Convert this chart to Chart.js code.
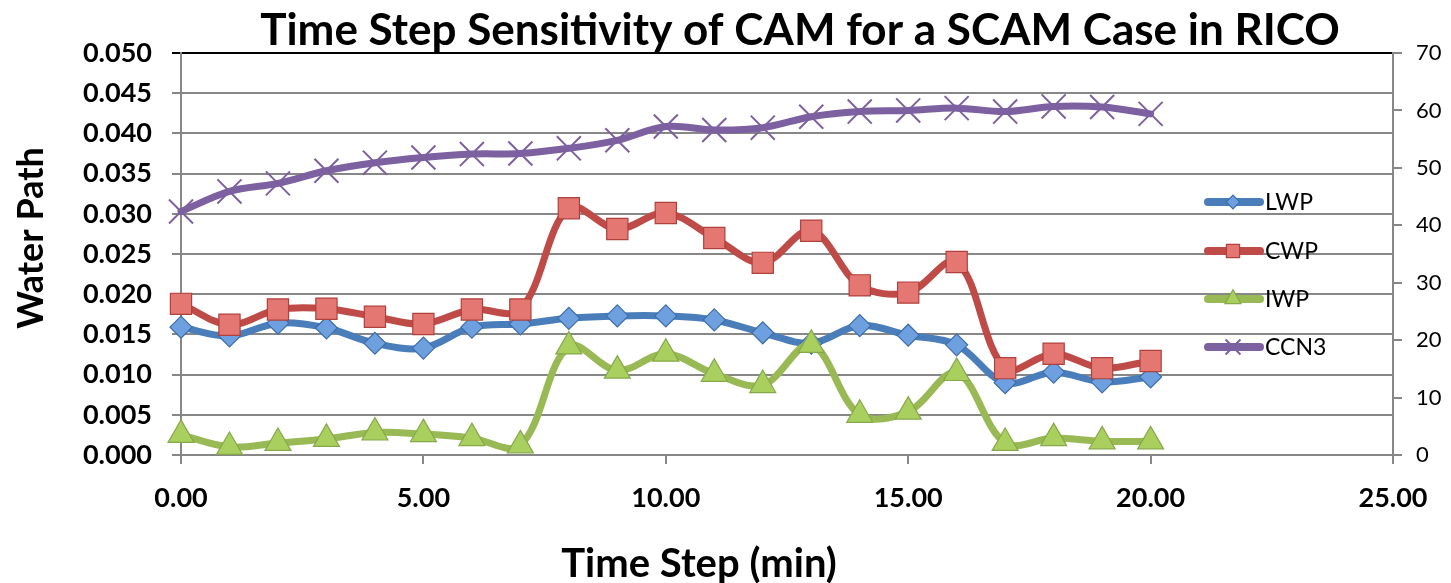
<!DOCTYPE html>
<html>
<head>
<meta charset="utf-8">
<script src="https://cdn.jsdelivr.net/npm/chart.js@4.4.1/dist/chart.umd.min.js"></script>
<style>
html,body{margin:0;padding:0;background:#fff;}
#wrap{width:1451px;height:583px;position:relative;}
</style>
</head>
<body>
<div id="wrap"><canvas id="c" width="1451" height="583"></canvas></div>
<script>
const timeSteps = [0,1,2,3,4,5,6,7,8,9,10,11,12,13,14,15,16,17,18,19,20];
const lwp  = [0.0159,0.0148,0.0164,0.0158,0.0139,0.0133,0.0159,0.0163,0.0170,0.0173,0.0173,0.0168,0.0152,0.0139,0.0161,0.0149,0.0137,0.0090,0.0103,0.0091,0.0097];
const cwp  = [0.0188,0.0162,0.0181,0.0182,0.0172,0.0163,0.0181,0.0181,0.0307,0.0281,0.0301,0.0270,0.0239,0.0279,0.0211,0.0202,0.0240,0.0108,0.0126,0.0108,0.0117];
const iwp  = [0.0025,0.0010,0.0015,0.0020,0.0028,0.0026,0.0021,0.0012,0.0135,0.0105,0.0126,0.0101,0.0087,0.0137,0.0050,0.0054,0.0102,0.0015,0.0021,0.0017,0.0017];
const ccn3 = [42.4,45.9,47.3,49.5,50.9,51.8,52.4,52.5,53.4,54.8,57.2,56.6,57.0,58.9,59.8,60.0,60.4,59.8,60.7,60.6,59.4];
const seriesNames = ['LWP','CWP','IWP','CCN3'];
const chartTitle = 'Time Step Sensitivity of CAM for a SCAM Case in RICO';
const xTitle = 'Time Step (min)';
const yTitle = 'Water Path';

const FONT = 'Lato, "Open Sans", sans-serif';

function pts(arr){ return arr.map((v,i)=>({x:timeSteps[i], y:v})); }

const ds = [
  {label:seriesNames[0], data:pts(lwp), yAxisID:'y', borderColor:'#4A7EBB', backgroundColor:'#6E9FDE',
   pointStyle:'rectRot', pointRadius:11, pointBorderColor:'#3D6EAA', pointBorderWidth:1.2, order:4},
  {label:seriesNames[1], data:pts(cwp), yAxisID:'y', borderColor:'#BE4B48', backgroundColor:'#E57773',
   pointStyle:'rect', pointRadius:15, pointBorderColor:'#B0403D', pointBorderWidth:1.2, order:3},
  {label:seriesNames[2], data:pts(iwp), yAxisID:'y', borderColor:'#98B954', backgroundColor:'#A9D05E',
   pointStyle:'triangle', pointRadius:15, pointBorderColor:'#86A84A', pointBorderWidth:1.2, order:2},
  {label:seriesNames[3], data:pts(ccn3), yAxisID:'y2', borderColor:'#7D60A0', backgroundColor:'#7D60A0',
   pointStyle:'crossRot', pointRadius:17, pointBorderColor:'#7D60A0', pointBorderWidth:2, order:1}
];
ds.forEach(d=>{ d.borderWidth=7; d.tension=0.35; d.fill=false; d.clip=false; d.pointHoverRadius=d.pointRadius; d.borderCapStyle='round'; d.borderJoinStyle='round'; });

const textPlugin = {
  id:'texts',
  afterDraw(chart){
    const ctx = chart.ctx;
    ctx.save();
    ctx.fillStyle = '#000';
    ctx.textAlign = 'center';
    ctx.textBaseline = 'alphabetic';
    ctx.font = 'bold 44px ' + FONT;
    ctx.fillText(chartTitle, 800, 45);
    ctx.font = 'bold 40px ' + FONT;
    ctx.fillText(xTitle, 699, 577);
    ctx.save();
    ctx.translate(43, 238);
    ctx.rotate(-Math.PI/2);
    ctx.font = 'bold 36px ' + FONT;
    ctx.fillText(yTitle, 0, 0);
    ctx.restore();
    // legend
    const ys = [202,251,299,347];
    chart.data.datasets.forEach((d,i)=>{
      const y = ys[i];
      ctx.strokeStyle = d.borderColor;
      ctx.lineWidth = 8;
      ctx.lineCap = 'round';
      ctx.beginPath(); ctx.moveTo(1208,y); ctx.lineTo(1260,y); ctx.stroke();
      ctx.fillStyle = d.backgroundColor;
      ctx.strokeStyle = d.pointBorderColor;
      ctx.lineWidth = d.pointBorderWidth;
      ctx.lineCap = 'butt';
      Chart.helpers.drawPoint(ctx, {pointStyle:d.pointStyle, rotation:0, borderWidth:d.pointBorderWidth, radius:d.pointRadius*0.62}, 1233, y);
      ctx.fillStyle = '#000';
      ctx.font = '23px ' + FONT;
      ctx.textAlign = 'left';
      ctx.textBaseline = 'middle';
      ctx.fillText(d.label, 1265, y+1);
    });
    ctx.restore();
  }
};

new Chart(document.getElementById('c'), {
  type:'line',
  data:{datasets:ds},
  options:{
    responsive:false,
    animation:false,
    events:[],
    layout:{padding:{top:53,left:0,right:0,bottom:0}},
    plugins:{legend:{display:false}, tooltip:{enabled:false}, title:{display:false}},
    scales:{
      x:{type:'linear', min:0, max:25,
         ticks:{stepSize:5, color:'#000', font:{family:FONT, size:27, weight:'bold'}, padding:18, maxRotation:0,
                callback:v=>Number(v).toFixed(2)},
         grid:{display:true, drawOnChartArea:false, color:'#878787', lineWidth:2, tickLength:9},
         border:{color:'#878787', width:2},
         afterFit:s=>{ s.height = 128; }},
      y:{position:'left', min:0, max:0.05,
         ticks:{stepSize:0.005, color:'#000', font:{family:FONT, size:27, weight:'bold'}, padding:20,
                callback:v=>Number(v).toFixed(3)},
         grid:{color:c=> (c.tick && Math.abs(c.tick.value-0.05)<1e-9) ? '#000' : '#878787', lineWidth:2, tickLength:9},
         border:{color:'#878787', width:2},
         afterFit:s=>{ s.width = 181; }},
      y2:{position:'right', min:0, max:70,
         ticks:{stepSize:10, color:'#000', font:{family:FONT, size:22}, padding:14},
         grid:{drawOnChartArea:false, color:'#878787', lineWidth:2, tickLength:9},
         border:{color:'#878787', width:2},
         afterFit:s=>{ s.width = 58; }}
    }
  },
  plugins:[textPlugin]
});
</script>
</body>
</html>
